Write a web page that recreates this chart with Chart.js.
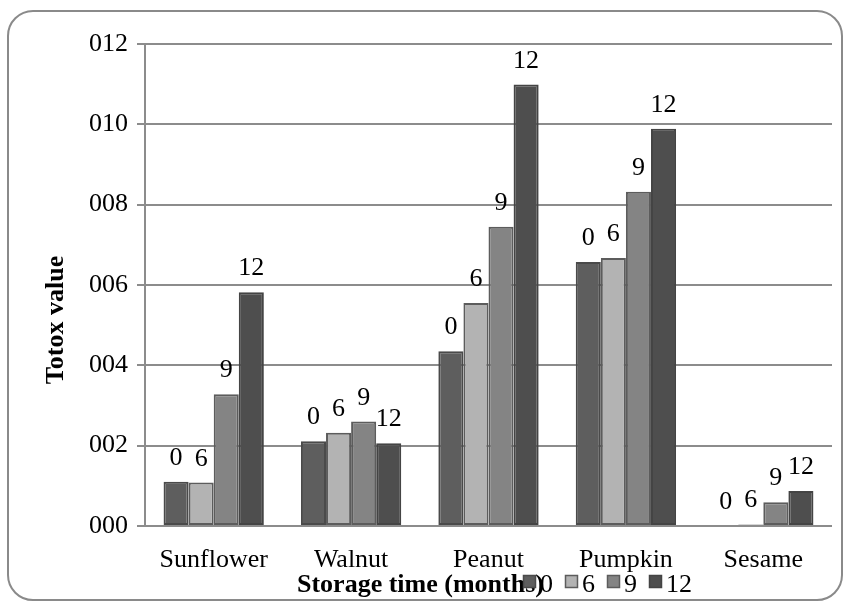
<!DOCTYPE html>
<html>
<head>
<meta charset="utf-8">
<title>Totox value</title>
<script src="https://cdn.jsdelivr.net/npm/chart.js@4.4.0/dist/chart.umd.min.js"></script>
<style>
  html, body { margin: 0; padding: 0; background: #fff; }
  #wrap { position: relative; width: 849px; height: 606px; }
  #totoxChart { position: absolute; left: 0; top: 0; }
  .warm { position: absolute; left: 20px; top: 20px; font-family: "Liberation Serif"; color: #fff; }
</style>
</head>
<body>
<div id="wrap">
  <span class="warm" style="font-size:26px">Sunflower 012</span>
  <span class="warm" style="font-size:26px;font-weight:bold">Totox value</span>
  <canvas id="totoxChart" width="849" height="606"></canvas>
</div>
<script>
// Chart data
const oils = ['Sunflower', 'Walnut', 'Peanut', 'Pumpkin', 'Sesame'];
const months = ['0', '6', '9', '12'];
const month0 = [1.10, 2.11, 4.35, 6.57, 0.00];
const month6 = [1.08, 2.32, 5.55, 6.67, 0.04];
const month9 = [3.28, 2.60, 7.45, 8.32, 0.59];
const month12 = [5.82, 2.06, 10.99, 9.89, 0.87];
const yTicks = [0, 2, 4, 6, 8, 10, 12];

const fillColors = ['#5e5e5e', '#b3b3b3', '#848484', '#4e4e4e'];
const edgeColors = ['#4a4a4a', '#5c5c5c', '#5c5c5c', '#444444'];
const serif = '"Liberation Serif"';

// Draw rounded border, bar labels, axis titles and legend
const decorations = {
  id: 'decorations',
  beforeDraw(chart) {
    const ctx = chart.ctx;
    ctx.save();
    ctx.fillStyle = '#fff';
    ctx.fillRect(0, 0, chart.width, chart.height);
    ctx.strokeStyle = '#8a8a8a';
    ctx.lineWidth = 2;
    ctx.beginPath();
    ctx.roundRect(8, 11, 834, 589, 25);
    ctx.stroke();
    ctx.restore();
  },
  afterDatasetsDraw(chart) {
    const ctx = chart.ctx;
    ctx.save();
    ctx.font = '26px ' + serif;
    ctx.fillStyle = '#000';
    ctx.textAlign = 'center';
    ctx.textBaseline = 'alphabetic';
    chart.data.datasets.forEach((ds, i) => {
      chart.getDatasetMeta(i).data.forEach(bar => {
        ctx.fillText(ds.label, bar.x, bar.y - 17);
      });
    });
    ctx.restore();
  },
  afterDraw(chart) {
    const ctx = chart.ctx;
    ctx.save();
    // y title
    ctx.font = 'bold 26px ' + serif;
    ctx.fillStyle = '#000';
    ctx.textAlign = 'center';
    ctx.textBaseline = 'alphabetic';
    ctx.translate(63, 320);
    ctx.rotate(-Math.PI / 2);
    ctx.fillText('Totox value', 0, 0);
    ctx.restore();

    // x title
    ctx.save();
    ctx.font = 'bold 26px ' + serif;
    ctx.fillStyle = '#000';
    ctx.textAlign = 'left';
    ctx.textBaseline = 'alphabetic';
    ctx.fillText('Storage time (months)', 297, 592);
    ctx.restore();

    // legend
    ctx.save();
    ctx.font = '26px ' + serif;
    ctx.textBaseline = 'alphabetic';
    ctx.textAlign = 'left';
    let x = 523;
    chart.data.datasets.forEach(ds => {
      ctx.fillStyle = ds.backgroundColor;
      ctx.strokeStyle = ds.borderColor;
      ctx.lineWidth = 1.5;
      ctx.fillRect(x, 575, 13, 13);
      ctx.strokeRect(x + 0.5, 575.5, 12, 12);
      ctx.fillStyle = '#000';
      ctx.fillText(ds.label, x + 17, 592);
      x += 17 + ctx.measureText(ds.label).width + 12;
    });
    ctx.restore();
  }
};

function drawChart() {
  Chart.defaults.font.family = serif;
  const ctx = document.getElementById('totoxChart').getContext('2d');
  new Chart(ctx, {
    type: 'bar',
    data: {
      labels: oils,
      datasets: [month0, month6, month9, month12].map((values, i) => ({
        label: months[i],
        data: values,
        backgroundColor: fillColors[i],
        borderColor: edgeColors[i],
        borderWidth: 2,
        borderSkipped: false,
        categoryPercentage: 0.73,
        barPercentage: 1
      }))
    },
    options: {
      responsive: false,
      animation: false,
      devicePixelRatio: 1,
      layout: {
        padding: { left: 0, right: 17, top: 44, bottom: 0 }
      },
      plugins: {
        legend: { display: false },
        tooltip: { enabled: false }
      },
      scales: {
        x: {
          grid: { display: false },
          border: { display: false },
          ticks: {
            color: '#000',
            font: { family: serif, size: 26, weight: 'normal' },
            padding: 11
          },
          afterFit: scale => { scale.height = 80; }
        },
        y: {
          min: 0,
          max: 12,
          afterBuildTicks: scale => {
            scale.ticks = yTicks.map(v => ({ value: v }));
          },
          grid: {
            color: '#8c8c8c',
            lineWidth: 2,
            tickLength: 8,
            tickColor: '#8c8c8c'
          },
          border: { color: '#8c8c8c', width: 2 },
          ticks: {
            color: '#000',
            font: { family: serif, size: 26, weight: 'normal' },
            padding: 9,
            callback: v => String(v).padStart(3, '0')
          },
          afterFit: scale => { scale.width = 145; }
        }
      }
    },
    plugins: [decorations]
  });
}

// wait for the serif face (used by the hidden spans above) before the single draw
document.fonts.ready.then(() => setTimeout(drawChart, 50));
</script>
</body>
</html>
